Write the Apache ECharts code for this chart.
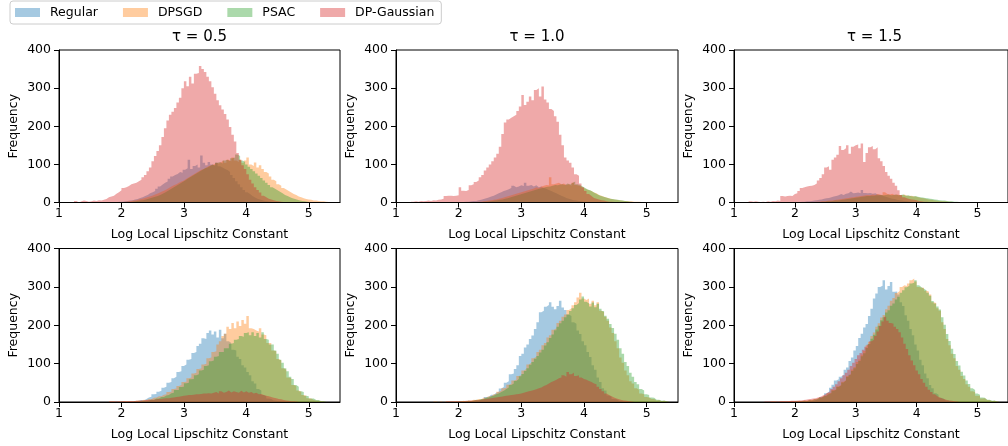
<!DOCTYPE html>
<html><head><meta charset="utf-8">
<script src="https://cdn.jsdelivr.net/npm/echarts@6/dist/echarts.min.js"></script>
<style>html,body{margin:0;padding:0;background:#fff}#chart{width:1008px;height:446px}</style>
</head><body><div id="chart"></div>
<script>
// ---------- DATA ----------
const seriesNames = ['Regular', 'DPSGD', 'PSAC', 'DP-Gaussian'];
const panelTitles = ['τ = 0.5', 'τ = 1.0', 'τ = 1.5', '', '', ''];
const xTickValues = [1, 2, 3, 4, 5];
const yTickValues = [0, 100, 200, 300, 400];
const binWidth = 0.04;

// Row 1 (top), tau = 0.5  — starts: Regular, DPSGD, PSAC, DP-Gaussian
const topTau05Starts = [1.90, 2.00, 2.10, 1.24];
const topTau05Regular = [1,2,2,3,4,5,6,8,9,12,14,17,20,24,27,30,36,42,47,52,55,62,68,72,75,80,78,86,90,112,88,96,100,92,123,104,98,106,100,96,104,95,92,88,85,80,72,64,56,48,40,33,27,22,17,13,10,8,6,4,3,2,1];
const topTau05Dpsgd = [1,2,3,4,5,6,8,9,11,13,15,17,20,22,25,28,31,34,38,42,45,48,52,55,58,62,66,70,74,78,82,86,88,92,96,98,100,104,102,106,110,104,112,108,118,110,106,112,104,110,118,100,96,105,92,98,88,80,76,68,60,56,48,44,38,34,30,26,22,20,16,14,11,9,8,7,5,5,4,3,3,2,1];
const topTau05Psac = [1,2,3,4,5,6,7,9,11,13,15,17,20,23,26,30,34,38,42,46,50,54,58,62,66,70,74,78,82,86,90,92,96,100,98,104,106,102,110,112,108,116,118,126,122,110,106,100,94,88,82,76,70,64,58,52,46,40,36,32,28,24,20,17,14,11,9,7,5,4,3,2,1];
const topTau05Gauss = [4,0,3,5,4,2,3,5,4,6,5,7,9,14,16,18,23,27,32,38,40,43,48,50,52,56,60,66,72,82,92,108,122,135,150,172,195,215,230,238,248,262,275,300,318,305,330,312,338,340,358,350,342,330,318,302,285,268,255,244,232,218,198,178,160,130,112,98,88,74,60,50,40,33,26,18,14,10,8,6,4,3,2,1];

// Row 1 (top), tau = 1.0
const topTau10Starts = [2.00, 2.20, 2.30, 1.24];
const topTau10Regular = [1,1,2,2,3,4,4,6,7,9,11,13,16,18,21,24,27,30,32,35,38,44,40,42,45,43,52,44,46,42,45,40,42,38,36,33,30,27,24,21,18,15,12,10,8,6,5,4,3,2,1];
const topTau10Dpsgd = [1,1,2,2,3,4,5,6,7,8,10,11,13,15,17,19,21,23,25,27,29,31,33,35,37,40,38,42,44,46,45,66,48,50,52,48,50,46,48,44,52,46,44,42,38,35,32,30,26,24,20,18,15,13,11,9,8,7,6,5,4,4,3,3,2,2,2,1,1,1,1,0,1,0,1];
const topTau10Psac = [1,1,2,2,3,4,5,6,7,8,10,11,13,15,17,19,21,23,25,27,29,31,33,35,37,38,40,41,42,44,46,45,47,48,46,50,47,52,55,48,46,42,38,34,32,28,24,21,18,16,14,12,10,9,8,7,6,5,4,3,2,1];
const topTau10Gauss = [2,3,2,4,3,4,5,4,6,5,7,8,10,17,18,18,17,18,19,40,31,30,33,45,48,54,58,66,72,84,92,100,108,118,128,146,180,210,218,222,226,230,240,252,282,256,264,278,268,295,300,278,304,270,262,245,240,226,212,178,150,118,110,104,92,74,70,50,40,30,22,17,12,10,8,6,5,3,2,2,1];

// Row 1 (top), tau = 1.5
const topTau15Starts = [2.00, 2.20, 2.30, 1.24];
const topTau15Regular = [1,1,2,2,3,3,4,5,6,7,8,10,11,12,14,16,17,19,22,20,23,24,29,24,25,26,24,33,25,24,25,23,24,21,20,18,16,14,12,10,9,7,6,5,4,3,2,2,1];
const topTau15Dpsgd = [1,1,1,2,2,3,3,4,5,5,6,7,8,9,10,11,12,13,14,15,16,17,18,19,20,19,21,20,22,21,20,27,22,21,23,20,21,20,19,21,18,17,18,16,15,13,12,11,9,8,7,6,5,4,4,3,3,2,2,1,1,1];
const topTau15Psac = [1,1,1,2,2,3,3,4,5,5,6,7,8,9,10,11,12,13,14,15,16,17,17,18,18,19,19,20,19,20,21,19,20,21,19,20,21,18,19,17,16,17,15,14,13,12,11,10,9,8,7,6,5,5,4,3,3,2,2,1,1,1];
const topTau15Gauss = [3,2,3,2,1,2,1,3,2,4,3,5,4,17,16,17,18,17,22,24,30,38,40,42,43,44,46,50,58,64,74,92,95,86,112,118,125,148,138,142,150,128,146,150,152,142,155,106,130,145,148,140,145,116,108,96,80,70,62,52,44,32,20,14,11,9,8,7,6,4,3,2,2,1];

// Row 2 (bottom), tau = 0.5
const botTau05Starts = [2.16, 1.80, 2.20, 1.80];
const botTau05Regular = [1,2,3,5,4,8,12,14,20,21,27,29,37,40,50,52,62,66,78,80,94,98,110,112,128,130,146,152,166,164,180,186,176,184,168,188,166,178,158,154,136,134,118,112,96,90,78,70,54,48,34,30,18,15,9,8,4,3,2,1];
const botTau05Dpsgd = [1,1,0,1,1,1,2,1,2,2,3,4,3,6,5,8,7,11,12,15,15,19,20,26,27,34,35,42,44,52,53,62,64,74,76,86,88,98,100,114,116,130,132,150,158,172,178,196,190,206,192,210,198,214,204,224,192,190,186,184,192,176,174,154,154,134,132,112,108,88,84,64,62,44,42,30,27,18,16,10,9,5,4,3,2,1,1];
const botTau05Psac = [1,1,2,3,2,4,6,5,9,9,13,13,17,18,23,24,31,31,39,40,49,50,59,60,70,72,82,84,94,96,106,108,118,120,130,130,140,140,152,154,162,164,172,170,180,182,174,182,172,180,168,182,164,162,150,150,134,126,110,102,88,80,66,60,44,40,28,26,16,15,9,9,5,5,2,2,1];
const botTau05Gauss = [1,1,1,1,1,2,1,2,2,2,3,3,4,4,5,5,6,6,7,8,8,9,10,10,11,12,13,14,15,16,17,18,18,19,20,20,21,22,22,23,22,24,26,22,28,24,26,30,25,28,26,24,29,25,28,24,26,22,24,20,21,18,16,15,13,11,10,8,7,5,4,3,2,2,1,1];

// Row 2 (bottom), tau = 1.0
const botTau10Starts = [2.20, 1.60, 2.00, 1.80];
const botTau10Regular = [1,2,3,6,7,13,14,19,19,24,27,35,39,50,54,72,74,86,96,120,126,142,150,164,173,190,208,234,238,248,253,260,248,242,250,264,246,240,228,224,208,204,186,177,158,148,130,117,96,84,64,52,36,30,17,14,8,7,3,2,1];
const botTau10Dpsgd = [1,0,1,0,1,1,1,1,2,1,2,3,2,4,3,6,5,8,7,11,11,15,15,20,21,27,29,36,37,45,47,56,58,68,70,82,86,98,102,114,118,130,136,148,154,168,174,188,192,206,212,222,228,240,244,252,260,272,285,270,266,270,256,264,252,260,238,234,222,212,194,180,158,140,116,102,82,70,54,48,36,32,22,20,13,12,8,8,4,5,2,3,1,1];
const botTau10Psac = [1,1,2,3,2,4,6,5,8,8,11,12,15,16,20,22,26,29,34,38,44,48,55,60,67,73,81,88,97,104,113,120,129,136,147,156,167,176,187,196,205,212,221,228,237,244,253,258,267,275,261,257,249,259,247,256,243,237,225,217,203,193,178,162,140,126,104,94,76,66,52,46,34,30,20,18,12,11,6,6,3,4,2,1];
const botTau10Gauss = [1,1,1,1,2,2,2,3,3,4,4,5,5,6,7,8,9,10,11,12,13,14,15,16,17,18,19,20,21,22,24,26,28,29,31,33,36,38,42,44,48,52,55,58,62,64,70,66,78,72,76,68,70,64,60,58,55,52,48,46,40,34,28,22,18,15,12,9,7,5,4,3,2,1,1];

// Row 2 (bottom), tau = 1.5
const botTau15Starts = [2.20, 1.60, 2.00, 1.50];
const botTau15Regular = [1,2,3,6,7,13,15,23,27,37,45,56,59,66,71,84,90,107,116,134,146,167,178,194,203,224,243,270,283,300,303,317,293,302,313,287,288,280,260,250,226,212,190,174,150,134,110,96,74,62,44,36,23,19,11,9,4,4,1,1];
const botTau15Dpsgd = [1,1,0,1,1,1,1,2,1,2,2,3,2,4,3,6,5,8,8,12,12,17,17,23,24,31,33,41,44,53,57,68,73,85,91,104,111,124,133,148,157,172,181,196,205,220,227,242,251,264,271,284,289,300,304,302,309,317,322,314,300,298,298,290,288,280,260,258,244,238,208,190,164,148,126,114,94,84,68,60,46,40,28,26,16,16,9,10,5,5,2,3,1,1];
const botTau15Psac = [1,1,2,3,2,5,4,7,7,11,11,15,16,21,23,29,32,39,43,51,56,65,71,81,88,99,107,119,127,141,151,165,175,189,199,213,221,233,239,251,257,267,274,285,291,299,303,309,311,317,304,299,295,291,285,277,263,257,249,241,221,201,177,159,139,125,107,95,79,69,56,47,36,31,22,19,12,11,6,6,3,4,1,1];
const botTau15Gauss = [1,1,1,1,1,1,2,2,2,2,3,3,3,4,4,5,6,7,8,9,10,12,14,17,20,24,28,34,40,46,54,62,70,76,84,94,102,112,122,128,136,144,150,158,162,172,184,198,210,222,212,206,204,196,190,182,168,152,138,122,108,96,82,72,60,50,40,32,26,20,15,12,9,7,5,4,3,2,1,1];

// ---------- ASSEMBLY ----------
const panelStarts = [topTau05Starts, topTau10Starts, topTau15Starts, botTau05Starts, botTau10Starts, botTau15Starts];
const panelCounts = [
  [topTau05Regular, topTau05Dpsgd, topTau05Psac, topTau05Gauss],
  [topTau10Regular, topTau10Dpsgd, topTau10Psac, topTau10Gauss],
  [topTau15Regular, topTau15Dpsgd, topTau15Psac, topTau15Gauss],
  [botTau05Regular, botTau05Dpsgd, botTau05Psac, botTau05Gauss],
  [botTau10Regular, botTau10Dpsgd, botTau10Psac, botTau10Gauss],
  [botTau15Regular, botTau15Dpsgd, botTau15Psac, botTau15Gauss]
];

const colors = ['rgba(31,119,180,0.4)', 'rgba(255,127,14,0.4)', 'rgba(44,160,44,0.4)', 'rgba(214,39,40,0.4)'];
const gridBoxes = [
  [59, 50, 281, 152.5], [396, 50, 282, 152.5], [734, 50, 281, 152.5],
  [59, 248.5, 281, 153.5], [396, 248.5, 282, 153.5], [734, 248.5, 281, 153.5]
];
const FONT = 'DejaVu Sans';

function histPoints(start, counts) {
  const pts = counts.map((c, i) => [+(start + i * binWidth).toFixed(4), c]);
  pts.push([+(start + counts.length * binWidth).toFixed(4), 0]);
  return pts;
}

const grids = [], xAxes = [], yAxes = [], series = [], titles = [];
gridBoxes.forEach((b, p) => {
  grids.push({left: b[0], top: b[1], width: b[2], height: b[3], show: true,
    borderColor: '#000', borderWidth: 1, backgroundColor: 'transparent', containLabel: false});
  xAxes.push({type: 'value', gridIndex: p, min: 1, max: 5.5, interval: 1, z: 5,
    name: 'Log Local Lipschitz Constant', nameLocation: 'middle', nameGap: 26,
    nameTextStyle: {fontSize: 12.5, color: '#000', fontFamily: FONT},
    axisLine: {show: true, onZero: false, lineStyle: {color: '#000', width: 1}},
    axisTick: {show: true, inside: false, length: 5, lineStyle: {color: '#000'}, customValues: xTickValues},
    axisLabel: {fontSize: 12.5, color: '#000', fontFamily: FONT, margin: 5, customValues: xTickValues},
    splitLine: {show: false}});
  yAxes.push({type: 'value', gridIndex: p, min: 0, max: 400, interval: 100, z: 5,
    name: 'Frequency', nameLocation: 'middle', nameGap: 39,
    nameTextStyle: {fontSize: 12.5, color: '#000', fontFamily: FONT},
    axisLine: {show: true, lineStyle: {color: '#000', width: 1}},
    axisTick: {show: true, inside: false, length: 5, lineStyle: {color: '#000'}, customValues: yTickValues},
    axisLabel: {fontSize: 12.5, color: '#000', fontFamily: FONT, margin: 8, customValues: yTickValues},
    splitLine: {show: false}});
  if (panelTitles[p]) {
    titles.push({text: panelTitles[p], left: b[0] + b[2] / 2, top: 30, textAlign: 'center', padding: 0,
      textStyle: {fontSize: 15, fontWeight: 'normal', color: '#000', fontFamily: FONT}});
  }
  seriesNames.forEach((name, s) => {
    series.push({type: 'line', name: name, xAxisIndex: p, yAxisIndex: p, step: 'end',
      showSymbol: false, symbol: 'none', silent: true, animation: false, clip: true,
      color: colors[s], itemStyle: {color: colors[s]},
      lineStyle: {width: 0, opacity: 0}, areaStyle: {color: colors[s], opacity: 1},
      data: histPoints(panelStarts[p][s], panelCounts[p][s])});
  });
});

const chart = echarts.init(document.getElementById('chart'), null, {renderer: 'canvas'});
chart.setOption({
  backgroundColor: '#fff',
  animation: false,
  textStyle: {fontFamily: FONT},
  title: titles,
  legend: {data: seriesNames, left: 10, top: 1, icon: 'rect', itemWidth: 25, itemHeight: 9, itemGap: 25,
    padding: [5, 7, 5, 5], borderColor: '#cccccc', borderWidth: 1, borderRadius: 3,
    itemStyle: {borderWidth: 0},
    textStyle: {fontSize: 12.5, color: '#000', fontFamily: FONT, padding: [0, 0, 0, 5]}},
  grid: grids, xAxis: xAxes, yAxis: yAxes, series: series
});
</script></body></html>
